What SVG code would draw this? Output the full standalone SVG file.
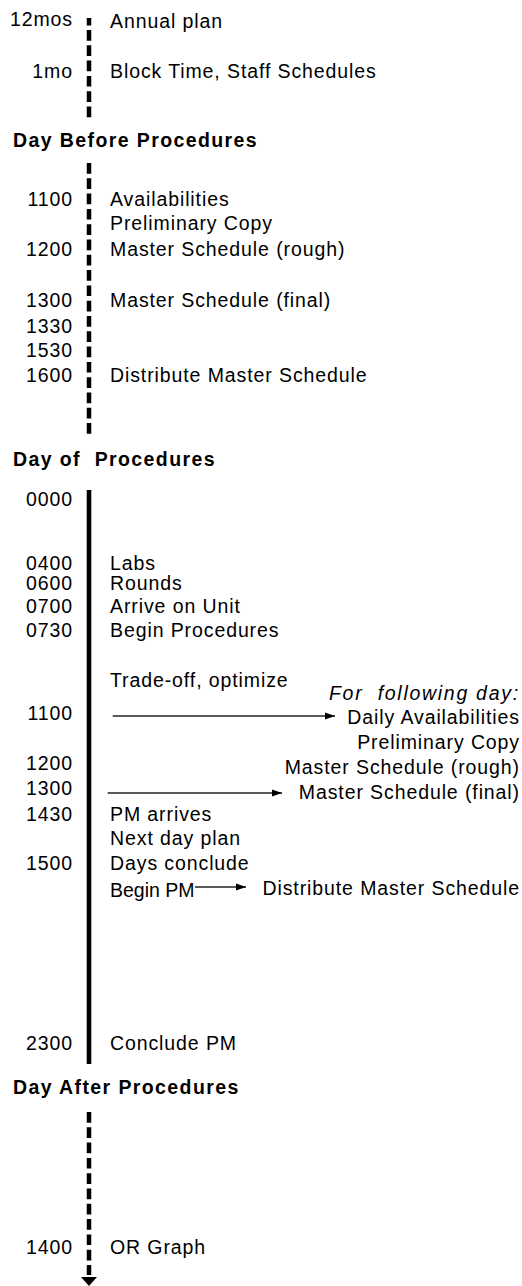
<svg xmlns="http://www.w3.org/2000/svg" width="522" height="1286" viewBox="0 0 522 1286">
<style>
text{font-family:"Liberation Sans",Arial,Helvetica,sans-serif;font-size:19.5px;fill:#000;letter-spacing:0.9px}
.l{text-anchor:end}
.r{text-anchor:end}
.b{font-weight:bold;letter-spacing:1.4px}
.i{font-style:italic}
.dash{stroke:#000;stroke-width:4.5;fill:none;stroke-dasharray:10.7 4.6}
.solid{stroke:#000;stroke-width:4.6;fill:none}
.arr{stroke:#222;stroke-width:1.3;fill:none;marker-end:url(#ah)}
</style>
<defs>
<marker id="ah" markerWidth="10" markerHeight="8" refX="10" refY="4" orient="auto" markerUnits="userSpaceOnUse">
<path d="M0,0.5 L10,4 L0,7.5 Z" fill="#000"/>
</marker>
</defs>
<g id="connectors">
<line class="dash" x1="89" y1="18" x2="89" y2="118" stroke-dashoffset="3.3"/>
<line class="dash" x1="89" y1="163" x2="89" y2="438"/>
<line class="solid" x1="89" y1="490" x2="89" y2="1064"/>
<line class="dash" x1="89" y1="1112" x2="89" y2="1275"/>
<polygon points="81,1277 97,1277 89,1286" fill="#000"/>
<line class="arr" x1="112.7" y1="716" x2="335" y2="716"/>
<line class="arr" x1="107.7" y1="793" x2="282" y2="793"/>
<line class="arr" x1="195" y1="887" x2="246" y2="887"/>
</g>
<g id="n-12mos"><text class="l" x="73" y="26">12mos</text><text x="110" y="28">Annual plan</text></g>
<g id="n-1mo"><text class="l" x="73" y="78">1mo</text><text x="110" y="78">Block Time, Staff Schedules</text></g>
<g id="h-daybefore"><text class="b" x="13" y="147">Day Before Procedures</text></g>
<g id="n-b1100"><text class="l" x="73" y="205.5">1100</text><text x="110" y="205.5">Availabilities</text></g>
<g id="n-bprelim"><text x="110" y="230">Preliminary Copy</text></g>
<g id="n-b1200"><text class="l" x="73" y="255.5">1200</text><text x="110" y="255.5">Master Schedule (rough)</text></g>
<g id="n-b1300"><text class="l" x="73" y="307">1300</text><text x="110" y="307">Master Schedule (final)</text></g>
<g id="n-b1330"><text class="l" x="73" y="332.5">1330</text></g>
<g id="n-b1530"><text class="l" x="73" y="357">1530</text></g>
<g id="n-b1600"><text class="l" x="73" y="382">1600</text><text x="110" y="382">Distribute Master Schedule</text></g>
<g id="h-dayof"><text class="b" x="13" y="465.5">Day of&#160; Procedures</text></g>
<g id="n-0000"><text class="l" x="73" y="505.5">0000</text></g>
<g id="n-0400"><text class="l" x="73" y="570">0400</text><text x="110" y="570">Labs</text></g>
<g id="n-0600"><text class="l" x="73" y="590">0600</text><text x="110" y="590">Rounds</text></g>
<g id="n-0700"><text class="l" x="73" y="613">0700</text><text x="110" y="613">Arrive on Unit</text></g>
<g id="n-0730"><text class="l" x="73" y="637">0730</text><text x="110" y="637">Begin Procedures</text></g>
<g id="n-tradeoff"><text x="110" y="686.5">Trade-off, optimize</text></g>
<g id="n-following"><text class="r i" x="519" y="700" textLength="190" lengthAdjust="spacing">For&#160; following day:</text></g>
<g id="n-1100"><text class="l" x="73" y="719.5">1100</text></g>
<g id="n-daily"><text class="r" x="520" y="723.5">Daily Availabilities</text></g>
<g id="n-prelim"><text class="r" x="520" y="748.5">Preliminary Copy</text></g>
<g id="n-1200"><text class="l" x="73" y="769.5">1200</text></g>
<g id="n-rough"><text class="r" x="520" y="773.5">Master Schedule (rough)</text></g>
<g id="n-1300"><text class="l" x="73" y="795">1300</text></g>
<g id="n-final"><text class="r" x="520" y="798.5">Master Schedule (final)</text></g>
<g id="n-1430"><text class="l" x="73" y="821">1430</text><text x="110" y="821">PM arrives</text></g>
<g id="n-nextday"><text x="110" y="845">Next day plan</text></g>
<g id="n-1500"><text class="l" x="73" y="870">1500</text><text x="110" y="870">Days conclude</text></g>
<g id="n-beginpm"><text x="110" y="897" style="letter-spacing:0">Begin PM</text></g>
<g id="n-distribute"><text class="r" x="520" y="895">Distribute Master Schedule</text></g>
<g id="n-2300"><text class="l" x="73" y="1049.5">2300</text><text x="110" y="1049.5">Conclude PM</text></g>
<g id="h-dayafter"><text class="b" x="13" y="1093.5">Day After Procedures</text></g>
<g id="n-1400"><text class="l" x="73" y="1253.5">1400</text><text x="110" y="1253.5">OR Graph</text></g>
</svg>
